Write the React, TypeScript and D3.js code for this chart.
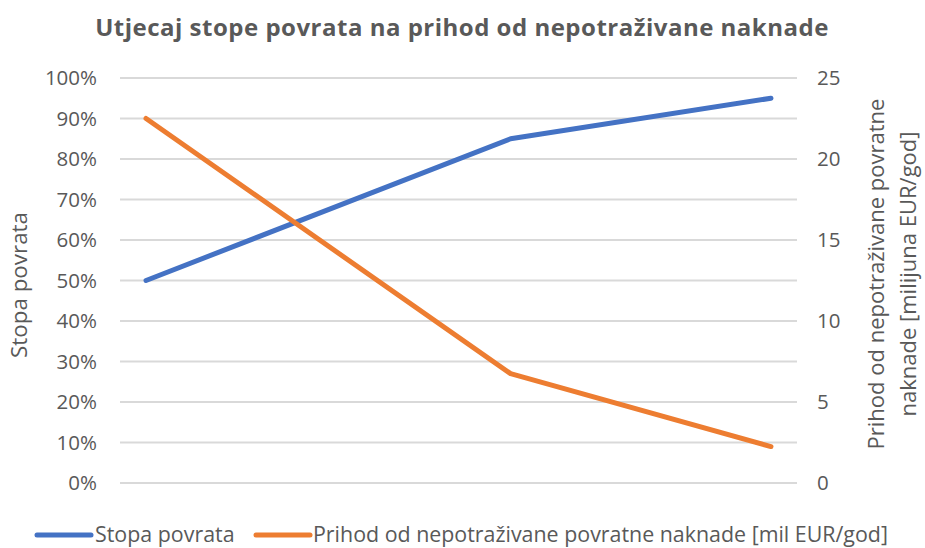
import React from "react";
import * as d3 from "d3";

const W = 925;
const H = 548;

const title = "Utjecaj stope povrata na prihod od nepotraživane naknade";
const xValues = [1, 8, 13];
const rateValues = [0.5, 0.85, 0.95];
const revenueValues = [22.5, 6.75, 2.25];
const leftTicks = [0, 0.1, 0.2, 0.3, 0.4, 0.5, 0.6, 0.7, 0.8, 0.9, 1.0];
const rightTicks = [0, 5, 10, 15, 20, 25];
const leftTitle = "Stopa povrata";
const rightTitle = ["Prihod od nepotraživane povratne", "naknade [milijuna EUR/god]"];
const seriesNames = ["Stopa povrata", "Prihod od nepotraživane povratne naknade [mil EUR/god]"];

const BLUE = "#4472C4";
const ORANGE = "#ED7D31";
const GRID = "#D9D9D9";
const TEXT = "#595959";
const FONT = "'Open Sans', sans-serif";

export default function App() {
  const plotLeft = 120;
  const plotRight = 797;
  const plotTop = 78;
  const plotBottom = 483;

  const x = d3.scaleLinear().domain([0.5, 13.5]).range([plotLeft, plotRight]);
  const yL = d3.scaleLinear().domain([0, 1]).range([plotBottom, plotTop]);
  const yR = d3.scaleLinear().domain([0, 25]).range([plotBottom, plotTop]);

  const blueLine = d3
    .line<number>()
    .x((_, i) => x(xValues[i]))
    .y((d) => yL(d))(rateValues);
  const orangeLine = d3
    .line<number>()
    .x((_, i) => x(xValues[i]))
    .y((d) => yR(d))(revenueValues);

  const fmt = d3.format(".0%");

  return (
    <svg width={W} height={H} style={{ position: "absolute", left: 0, top: 0, background: "#fff" }}>
      <rect width={W} height={H} fill="#fff" />
      <text x={462} y={36} textAnchor="middle" fontFamily={FONT} fontWeight="bold" fontSize={24} letterSpacing={0.5} fill={TEXT}>
        {title}
      </text>
      {leftTicks.map((t) => (
        <g key={t}>
          <line x1={plotLeft} x2={plotRight} y1={yL(t)} y2={yL(t)} stroke={GRID} strokeWidth={2} />
          <text x={97} y={yL(t)} dy="0.35em" textAnchor="end" fontFamily={FONT} fontSize={20.5} fill={TEXT}>
            {fmt(t)}
          </text>
        </g>
      ))}
      {rightTicks.map((t) => (
        <text key={t} x={817} y={yR(t)} dy="0.35em" textAnchor="start" fontFamily={FONT} fontSize={20.5} fill={TEXT}>
          {t}
        </text>
      ))}
      <text
        transform={`translate(27,285) rotate(-90)`}
        textAnchor="middle"
        fontFamily={FONT}
        fontSize={22.4}
        fill={TEXT}
      >
        {leftTitle}
      </text>
      {rightTitle.map((l, i) => (
        <text
          key={i}
          transform={`translate(${884 + i * 32},274) rotate(-90)`}
          textAnchor="middle"
          fontFamily={FONT}
          fontSize={22}
          fill={TEXT}
        >
          {l}
        </text>
      ))}
      <path d={blueLine || ""} fill="none" stroke={BLUE} strokeWidth={5} strokeLinecap="round" strokeLinejoin="round" />
      <path d={orangeLine || ""} fill="none" stroke={ORANGE} strokeWidth={5} strokeLinecap="round" strokeLinejoin="round" />
      <g>
        <line x1={37} x2={91} y1={535} y2={535} stroke={BLUE} strokeWidth={5} strokeLinecap="round" />
        <text x={95} y={535} dy="0.35em" fontFamily={FONT} fontSize={21.4} fill={TEXT}>
          {seriesNames[0]}
        </text>
        <line x1={256} x2={310} y1={535} y2={535} stroke={ORANGE} strokeWidth={5} strokeLinecap="round" />
        <text x={313} y={535} dy="0.35em" fontFamily={FONT} fontSize={21.4} fill={TEXT}>
          {seriesNames[1]}
        </text>
      </g>
    </svg>
  );
}
